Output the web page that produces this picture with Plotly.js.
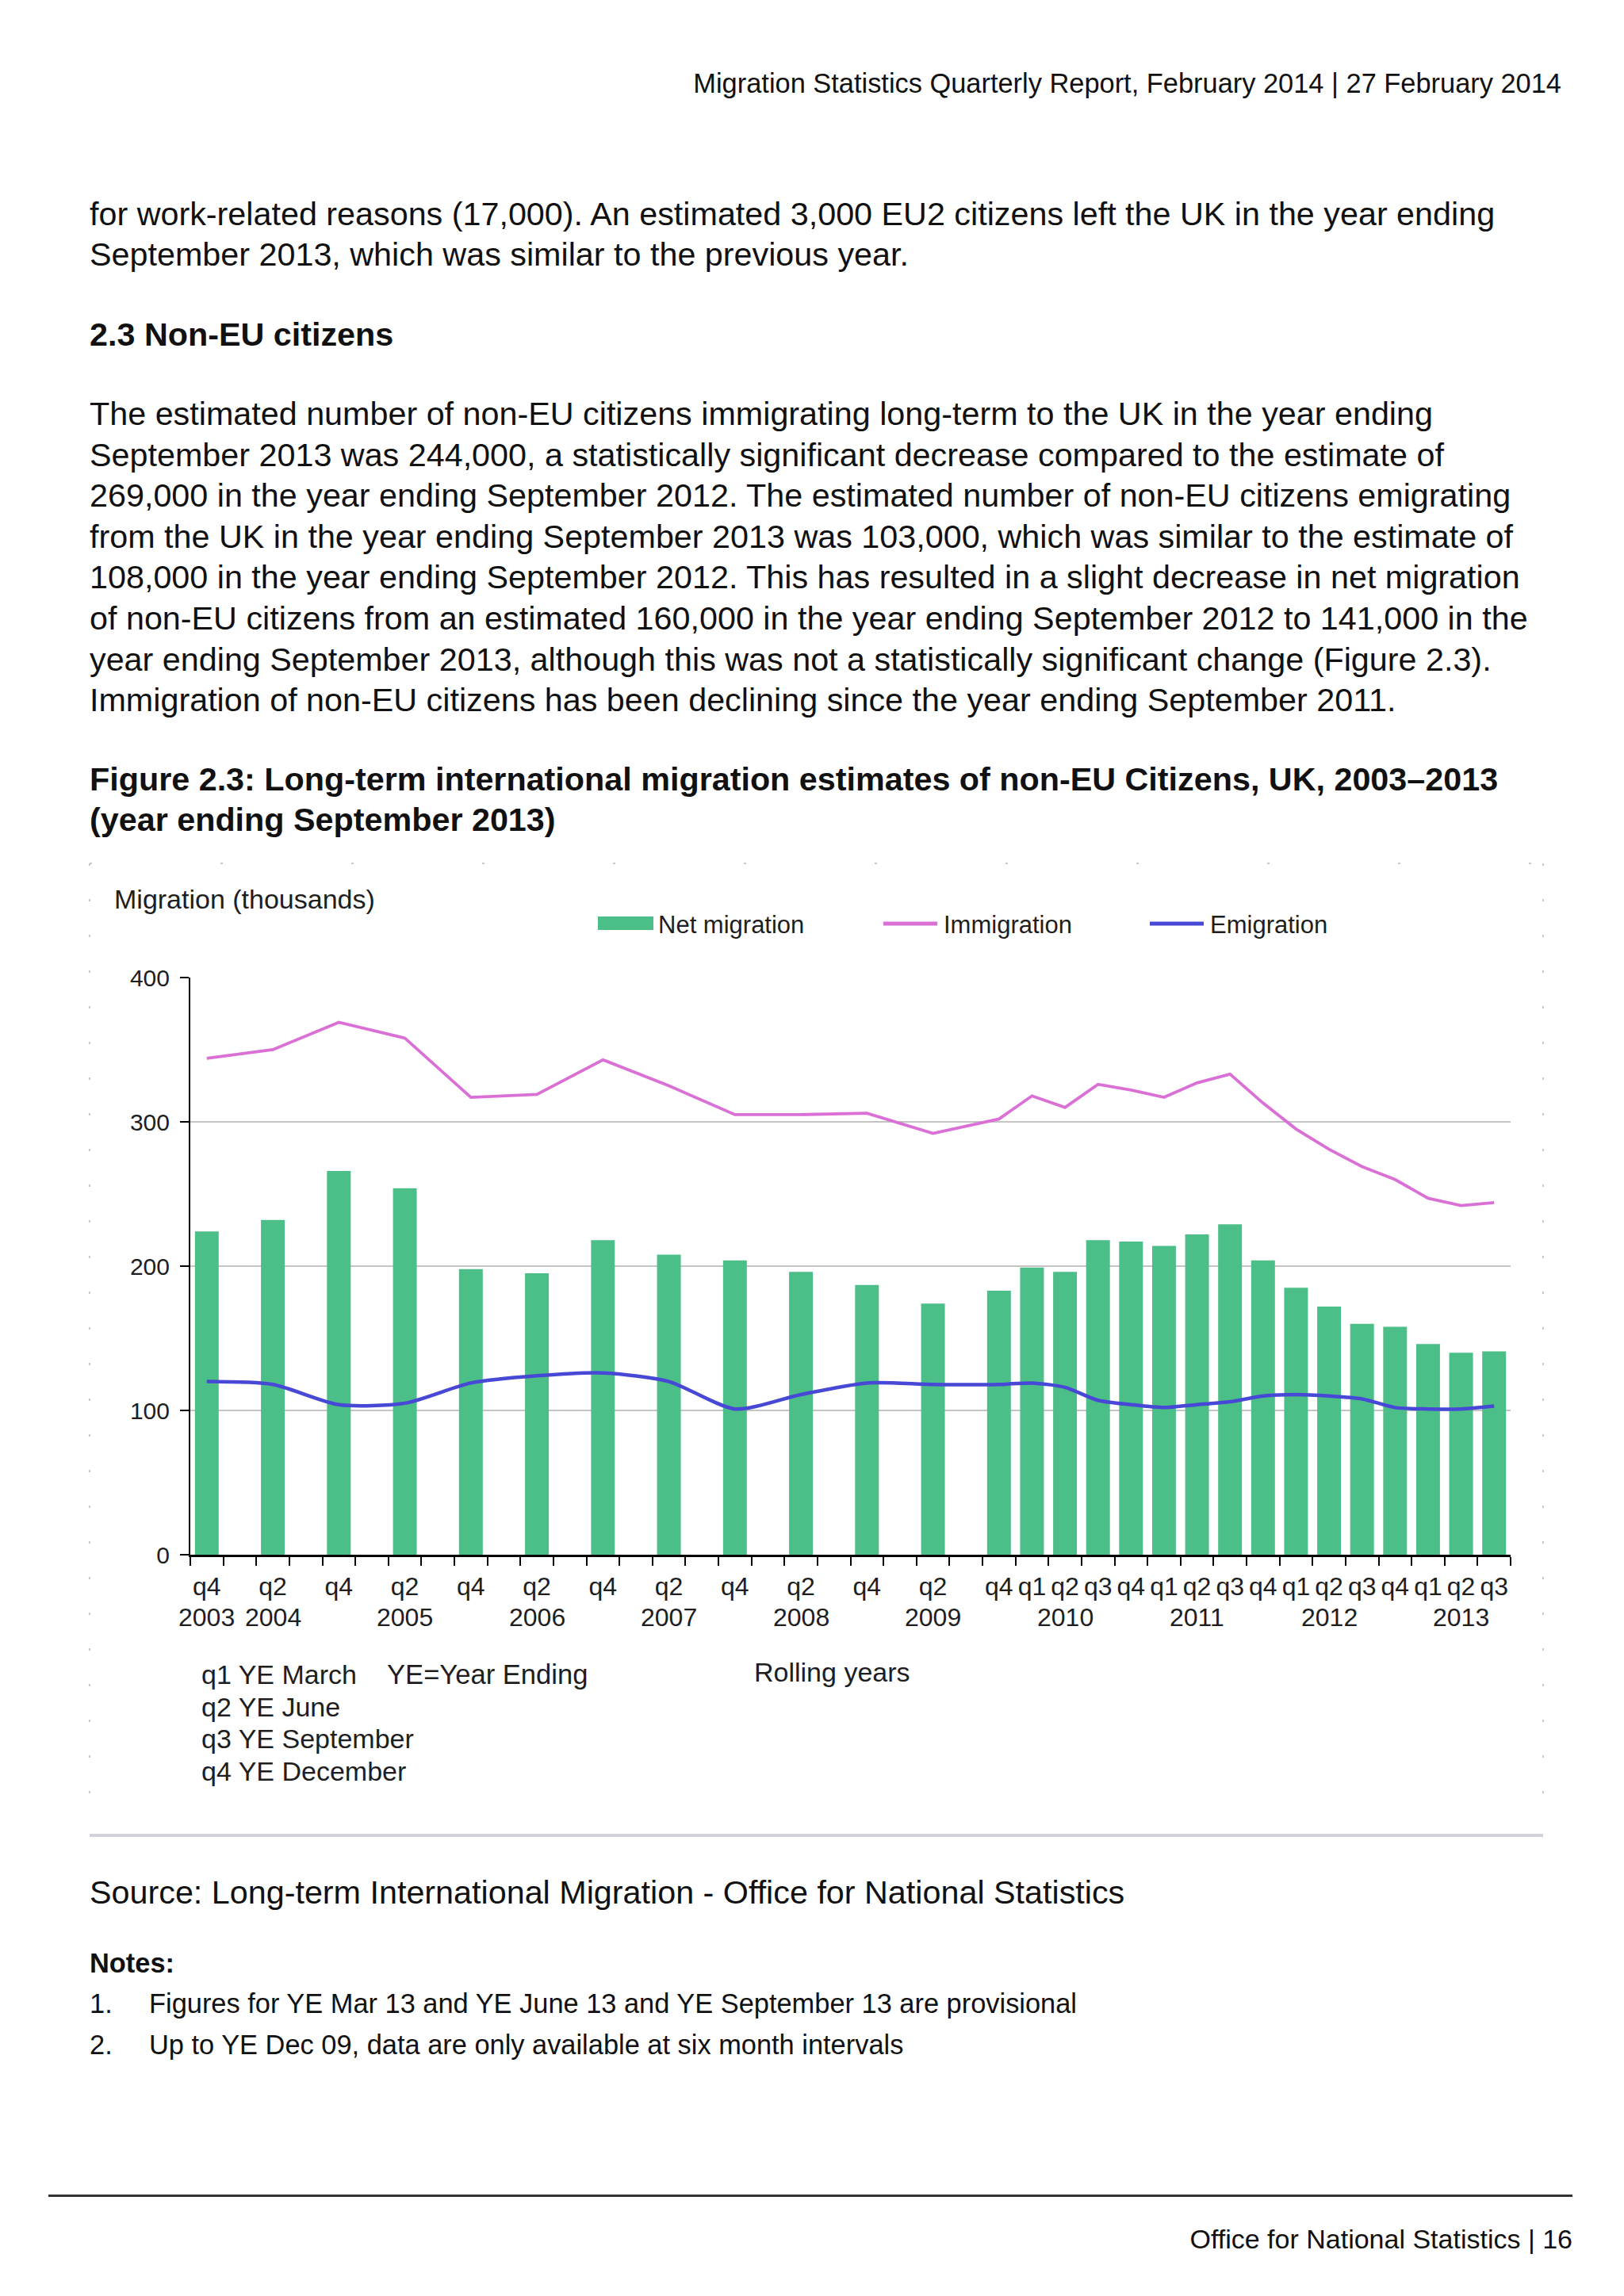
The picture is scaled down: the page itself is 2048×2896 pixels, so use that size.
<!DOCTYPE html>
<html><head><meta charset="utf-8">
<script src="https://cdn.plot.ly/plotly-3.0.1.min.js"></script>
<style>
html,body{margin:0;padding:0;background:#fff;}
body{width:2048px;height:2896px;position:relative;overflow:hidden;font-family:"Liberation Sans",Arial,sans-serif;color:#111;}
.ln{position:absolute;white-space:nowrap;line-height:1;}
.f40{font-size:41.3px;}
.f34{font-size:34.4px;}
.bold{font-weight:bold;}
#chart{position:absolute;left:0;top:1080px;width:2048px;height:1250px;}
</style></head>
<body>
<div class="ln f34" style="right:79px;top:88px;">Migration Statistics Quarterly Report, February 2014 | 27 February 2014</div>

<div class="ln f40" style="left:113px;top:250px;">for work-related reasons (17,000). An estimated 3,000 EU2 citizens left the UK in the year ending</div>
<div class="ln f40" style="left:113px;top:301px;">September 2013, which was similar to the previous year.</div>

<div class="ln f40 bold" style="left:113px;top:402px;">2.3 Non-EU citizens</div>

<div class="ln f40" style="left:113px;top:502px;">The estimated number of non-EU citizens immigrating long-term to the UK in the year ending</div>
<div class="ln f40" style="left:113px;top:554px;">September 2013 was 244,000, a statistically significant decrease compared to the estimate of</div>
<div class="ln f40" style="left:113px;top:605px;">269,000 in the year ending September 2012. The estimated number of non-EU citizens emigrating</div>
<div class="ln f40" style="left:113px;top:657px;">from the UK in the year ending September 2013 was 103,000, which was similar to the estimate of</div>
<div class="ln f40" style="left:113px;top:708px;">108,000 in the year ending September 2012. This has resulted in a slight decrease in net migration</div>
<div class="ln f40" style="left:113px;top:760px;">of non-EU citizens from an estimated 160,000 in the year ending September 2012 to 141,000 in the</div>
<div class="ln f40" style="left:113px;top:812px;">year ending September 2013, although this was not a statistically significant change (Figure 2.3).</div>
<div class="ln f40" style="left:113px;top:863px;">Immigration of non-EU citizens has been declining since the year ending September 2011.</div>

<div class="ln f40 bold" style="left:113px;top:963px;">Figure 2.3: Long-term international migration estimates of non-EU Citizens, UK, 2003–2013</div>
<div class="ln f40 bold" style="left:113px;top:1014px;">(year ending September 2013)</div>

<div id="chart"></div>

<div class="ln f40" style="left:113px;top:2367px;">Source: Long-term International Migration - Office for National Statistics</div>
<div class="ln f34 bold" style="left:113px;top:2459px;">Notes:</div>
<div class="ln f34" style="left:113px;top:2510px;">1.</div>
<div class="ln f34" style="left:188px;top:2510px;">Figures for YE Mar 13 and YE June 13 and YE September 13 are provisional</div>
<div class="ln f34" style="left:113px;top:2562px;">2.</div>
<div class="ln f34" style="left:188px;top:2562px;">Up to YE Dec 09, data are only available at six month intervals</div>

<div style="position:absolute;left:61px;top:2768px;width:1922px;height:3px;background:#333;"></div>
<div class="ln" style="right:65px;top:2807px;font-size:34px;">Office for National Statistics | 16</div>

<script>
// ---- data ----
const quarters = [
  "2003 Q4",
  "2004 Q1","2004 Q2","2004 Q3","2004 Q4",
  "2005 Q1","2005 Q2","2005 Q3","2005 Q4",
  "2006 Q1","2006 Q2","2006 Q3","2006 Q4",
  "2007 Q1","2007 Q2","2007 Q3","2007 Q4",
  "2008 Q1","2008 Q2","2008 Q3","2008 Q4",
  "2009 Q1","2009 Q2","2009 Q3","2009 Q4",
  "2010 Q1","2010 Q2","2010 Q3","2010 Q4",
  "2011 Q1","2011 Q2","2011 Q3","2011 Q4",
  "2012 Q1","2012 Q2","2012 Q3","2012 Q4",
  "2013 Q1","2013 Q2","2013 Q3"
];
// thousands; null = no estimate (six-monthly data before YE Dec 09)
const netMigration = [
  224,
  null,232,null,266,
  null,254,null,198,
  null,195,null,218,
  null,208,null,204,
  null,196,null,187,
  null,174,null,183,
  199,196,218,217,
  214,222,229,204,
  185,172,160,158,
  146,140,141
];
const immigration = [
  344,
  null,350,null,369,
  null,358,null,317,
  null,319,null,343,
  null,325,null,305,
  null,305,null,306,
  null,292,null,302,
  318,310,326,322,
  317,327,333,313,
  295,281,269,260,
  247,242,244
];
const emigration = [
  120,
  null,118,null,104,
  null,105,null,119,
  null,124,null,126,
  null,120,null,101,
  null,111,null,119,
  null,118,null,118,
  119,116,107,104,
  102,104,106,110,
  111,110,108,102,
  101,101,103
];
const quarterLabels = [
  "q4",
  "","q2","","q4",
  "","q2","","q4",
  "","q2","","q4",
  "","q2","","q4",
  "","q2","","q4",
  "","q2","","q4",
  "q1","q2","q3","q4",
  "q1","q2","q3","q4",
  "q1","q2","q3","q4",
  "q1","q2","q3"
];
const yearLabelAt = ["2003 Q4","2004 Q2","2005 Q2","2006 Q2","2007 Q2","2008 Q2","2009 Q2","2010 Q2","2011 Q2","2012 Q2","2013 Q2"];
const yearLabels  = ["2003","2004","2005","2006","2007","2008","2009","2010","2011","2012","2013"];
const yTicks = [0,100,200,300,400];
const seriesNames = ["Net migration","Immigration","Emigration"];
const keyLines = ["q1 YE March","q2 YE June","q3 YE September","q4 YE December"];

// ---- styling / layout ----
const GREEN = "#4cbe87", PINK = "#da70d6", BLUE = "#4848d6";
const TXT = "#1e1e1e";
const FONT = "Liberation Sans, Arial, sans-serif";
const DIV_TOP = 1080;
const PL = 240, PR = 1905, PT = 1233, PB = 1961;
const X = p => (p - PL) / (PR - PL);
const Y = p => (PB - p) / (PB - PT);

const traces = [
  {type:"bar", name:seriesNames[0], x:quarters, y:netMigration,
   marker:{color:GREEN, line:{width:0}}, showlegend:false, hoverinfo:"skip"},
  {type:"scatter", mode:"lines", name:seriesNames[1], x:quarters, y:immigration,
   connectgaps:true, line:{color:PINK, width:3.8}, showlegend:false, hoverinfo:"skip"},
  {type:"scatter", mode:"lines", name:seriesNames[2], x:quarters, y:emigration,
   connectgaps:true, line:{color:BLUE, width:4.5, shape:"spline", smoothing:0.7}, showlegend:false, hoverinfo:"skip"}
];

const annotations = [];
const txt = (text, xp, yp, size, anchor) => annotations.push({
  text:text, xref:"paper", yref:"paper", x:X(xp), y:Y(yp),
  xanchor:anchor||"left", yanchor:"middle", showarrow:false,
  font:{family:FONT, size:size, color:TXT}
});
txt("Migration (thousands)", 142, 1134, 34);
txt(seriesNames[0], 828, 1166, 31);
txt(seriesNames[1], 1188, 1166, 31);
txt(seriesNames[2], 1524, 1166, 31);
keyLines.forEach((k,i) => txt(k, 252, 2112 + i*40.5, 34));
txt("YE=Year Ending", 486, 2112, 34.6);
txt("Rolling years", 949, 2109, 34);
yearLabels.forEach((yl,i) => annotations.push({
  text:yl, xref:"x", yref:"paper", x:yearLabelAt[i], y:Y(2040),
  xanchor:"center", yanchor:"middle", showarrow:false,
  font:{family:FONT, size:32, color:TXT}
}));

const shapes = [
  // legend swatches
  {type:"rect", xref:"paper", yref:"paper", x0:X(754), x1:X(824), y0:Y(1173), y1:Y(1156), fillcolor:GREEN, line:{width:0}},
  {type:"line", xref:"paper", yref:"paper", x0:X(1114), x1:X(1182), y0:Y(1165), y1:Y(1165), line:{color:PINK, width:5}},
  {type:"line", xref:"paper", yref:"paper", x0:X(1450), x1:X(1518), y0:Y(1165), y1:Y(1165), line:{color:BLUE, width:5}},
  // faint dotted frame of the figure
  {type:"line", xref:"paper", yref:"paper", x0:X(113), x1:X(1946), y0:Y(1089), y1:Y(1089), line:{color:"#c8c8c8", width:2, dash:"3px,162px"}},
  {type:"line", xref:"paper", yref:"paper", x0:X(113), x1:X(113), y0:Y(1089), y1:Y(2300), line:{color:"#c8c8c8", width:2, dash:"3px,42px"}},
  {type:"line", xref:"paper", yref:"paper", x0:X(1946), x1:X(1946), y0:Y(1089), y1:Y(2300), line:{color:"#c8c8c8", width:2, dash:"3px,42px"}},
  // bottom rule
  {type:"line", xref:"paper", yref:"paper", x0:X(113), x1:X(1946), y0:Y(2315), y1:Y(2315), line:{color:"#d2d2da", width:4}}
];

const layout = {
  width:2048, height:1250,
  margin:{l:PL, r:2048-PR, t:PT-DIV_TOP, b:DIV_TOP+1250-PB, pad:0},
  paper_bgcolor:"#fff", plot_bgcolor:"#fff",
  font:{family:FONT, size:32, color:TXT},
  showlegend:false,
  bargap:0.28,
  xaxis:{type:"category", categoryorder:"array", categoryarray:quarters,
    range:[-0.5, quarters.length - 0.5], autorange:false,
    tickmode:"array", tickvals:quarters, ticktext:quarterLabels,
    tickson:"boundaries", ticks:"outside", ticklen:11, tickwidth:2, tickcolor:"#000",
    showline:true, linecolor:"#000", linewidth:3, showgrid:false, zeroline:false,
    ticklabelstandoff:10,
    tickangle:0, tickfont:{family:FONT, size:32, color:TXT}, automargin:false},
  yaxis:{range:[0,400], autorange:false, tickmode:"array", tickvals:yTicks,
    ticks:"outside", ticklen:11, tickwidth:2, tickcolor:"#000",
    showline:true, linecolor:"#000", linewidth:2,
    showgrid:true, gridcolor:"#c4c4c4", gridwidth:2, zeroline:false,
    ticklabelstandoff:7, tickfont:{family:FONT, size:30, color:TXT}, automargin:false},
  annotations:annotations,
  shapes:shapes
};

Plotly.newPlot("chart", traces, layout, {staticPlot:true, displayModeBar:false});
</script>
</body></html>
